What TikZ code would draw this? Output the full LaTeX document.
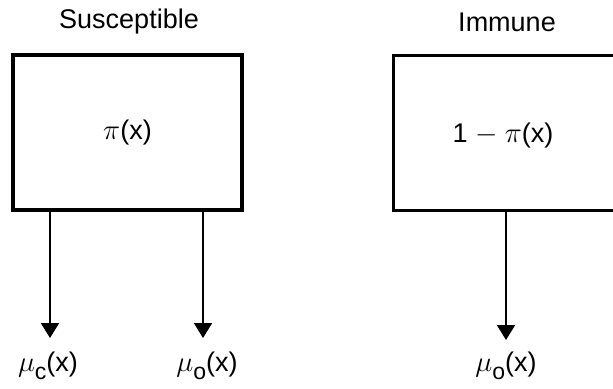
\documentclass[tikz,border=0pt]{standalone}
\usepackage{fontspec}
\setmainfont{Liberation Sans}
\usetikzlibrary{arrows.meta, positioning}

\newcommand{\lowsub}[1]{\raisebox{-0.6ex}{\fontsize{11.5}{12}\selectfont #1}}

\begin{document}
\begin{tikzpicture}[x=0.5pt, y=-0.5pt,
    every node/.style={font=\fontsize{13.5}{16}\selectfont},
    compartment/.style={draw, line width=1.6pt, minimum width=114.5pt, minimum height=77.5pt},
    flow/.style={line width=1pt, -{Triangle[width=9pt, length=7.5pt]}}]
  \useasboundingbox (0,0) rectangle (613,388);
  \clip (0,0) rectangle (613,388);
  % the two compartments
  \node[compartment] (sus) at (127.5,132.5) {$\pi$(x)};
  \node[compartment, minimum width=200pt, anchor=west] (imm) at (392,133) {};
  \node (immval) at (503,135) {1 $-$ $\pi$(x)};
  \node (susname) at (129,22) {Susceptible};
  \node (immname) at (507,22) {Immune};
  % exits
  \coordinate (c1) at (50,338);
  \coordinate (c2) at (203,338);
  \coordinate (c3) at (506,340);
  \node (muc) at (48,366) {$\mu$\lowsub{c}(x)};
  \node (muo) at (207,366) {$\mu$\lowsub{o}(x)};
  \node (muoi) at (506,366) {$\mu$\lowsub{o}(x)};
  \draw[flow] (sus.south -| c1) -- (c1);
  \draw[flow] (sus.south -| c2) -- (c2);
  \draw[flow] (imm.south -| c3) -- (c3);
\end{tikzpicture}
\end{document}
